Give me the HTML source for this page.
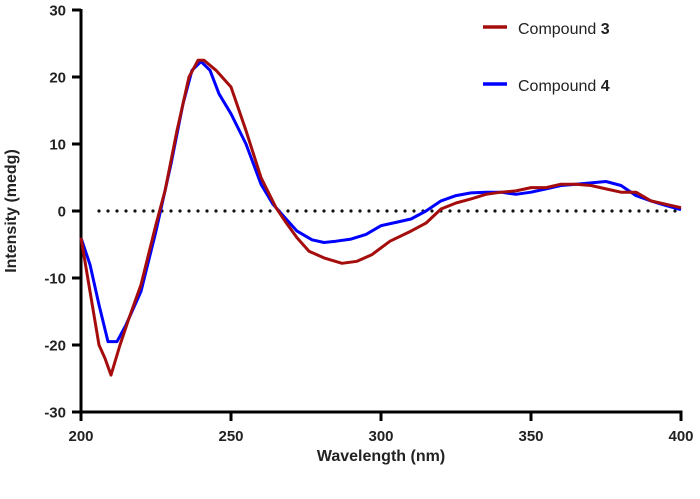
<!DOCTYPE html>
<html><head><meta charset="utf-8"><style>
body{margin:0;background:#fff;}
svg text{font-family:"Liberation Sans",Arial,sans-serif;}
</style></head><body>
<svg id="chart" width="700" height="494" xmlns="http://www.w3.org/2000/svg">
<g id="axes"></g><g id="series"></g>
<g>
<line x1="483" y1="27" x2="507" y2="27" stroke="#a50d0d" stroke-width="3.5"/>
<text x="518" y="34" font-size="16" fill="#222">Compound <tspan font-weight="bold">3</tspan></text>
<line x1="483" y1="84" x2="507" y2="84" stroke="#0000ff" stroke-width="3.5"/>
<text x="518" y="91" font-size="16" fill="#222">Compound <tspan font-weight="bold">4</tspan></text>
</g>
<text x="381" y="461" font-size="16" font-weight="bold" text-anchor="middle" fill="#222">Wavelength (nm)</text>
<text transform="translate(16,211) rotate(-90)" font-size="16" font-weight="bold" text-anchor="middle" fill="#222">Intensity (medg)</text>
</svg>
<script>
const xTicks=[200,250,300,350,400];
const yTicks=[30,20,10,0,-10,-20,-30];
const wl3=[200,203,206,208,210,213,216,220,225,228,232,236,239,241,245,250,255,260,265,268,272,276,281,287,292,297,303,310,315,320,325,330,335,340,345,350,355,360,365,370,375,380,385,390,395,400];
const cd3=[-4,-12,-20,-22,-24.5,-20,-16,-11,-2,3,12,20,22.5,22.5,21,18.5,12,5,0.5,-1.5,-4,-6,-7,-7.8,-7.5,-6.5,-4.5,-3,-1.8,0.3,1.2,1.8,2.5,2.8,3,3.5,3.5,4,4,3.8,3.3,2.8,2.8,1.5,1,0.5];
const wl4=[200,203,206,209,212,215,220,225,230,234,237,240,243,246,250,255,260,264,268,272,277,281,285,290,295,300,305,310,315,320,325,330,335,340,345,350,355,360,365,370,375,380,385,390,395,400];
const cd4=[-4,-8,-14,-19.5,-19.5,-17,-12,-3,7,16,21,22.3,21,17.5,14.5,10,4,1,-1,-3,-4.3,-4.7,-4.5,-4.2,-3.5,-2.2,-1.7,-1.2,0,1.5,2.3,2.7,2.8,2.8,2.5,2.8,3.3,3.8,4,4.2,4.4,3.8,2.3,1.5,0.8,0.2];
const NS='http://www.w3.org/2000/svg';
const X=v=>81+(v-200)*3;
const Y=v=>211-v*6.7;
const ax=document.getElementById('axes'),se=document.getElementById('series');
function mk(t,a,p){const e=document.createElementNS(NS,t);for(const k in a)e.setAttribute(k,a[k]);p.appendChild(e);return e;}
let l=mk('line',{x1:81,y1:Y(30)-1,x2:81,y2:Y(-30)+1.5,stroke:'#000','stroke-width':3},ax);


l=mk('line',{x1:79.5,y1:Y(-30),x2:X(400)+1.5,y2:Y(-30),stroke:'#000','stroke-width':3},ax);


yTicks.forEach(v=>{
 const t=mk('line',{x1:72,y1:Y(v),x2:81,y2:Y(v),stroke:'#000','stroke-width':3},ax);
 
 
 const tx=mk('text',{x:66,y:Y(v)+5.5,'font-size':15,'font-weight':'bold','text-anchor':'end',fill:'#222'},ax);
 tx.textContent=v;
 
 
});
xTicks.forEach(v=>{
 const t=mk('line',{x1:X(v),y1:Y(-30),x2:X(v),y2:Y(-30)+9,stroke:'#000','stroke-width':3},ax);
 
 
 const tx=mk('text',{x:X(v),y:Y(-30)+29,'font-size':15,'font-weight':'bold','text-anchor':'middle',fill:'#222'},ax);
 tx.textContent=v;
 
 
});
const z=mk('line',{x1:X(206),y1:Y(0),x2:X(400),y2:Y(0),stroke:'#111','stroke-width':3.2,'stroke-dasharray':'0 9','stroke-linecap':'round'},ax);


function path(w,c,col,name){
 const d=w.map((v,i)=>(i?'L':'M')+X(v).toFixed(1)+','+Y(c[i]).toFixed(1)).join(' ');
 const p=mk('path',{d:d,fill:'none',stroke:col,'stroke-width':3,'stroke-linejoin':'round'},se);
 
 
}
path(wl4,cd4,'#0000ff','series-compound-4');
path(wl3,cd3,'#a50d0d','series-compound-3');
</script>
</body></html>
